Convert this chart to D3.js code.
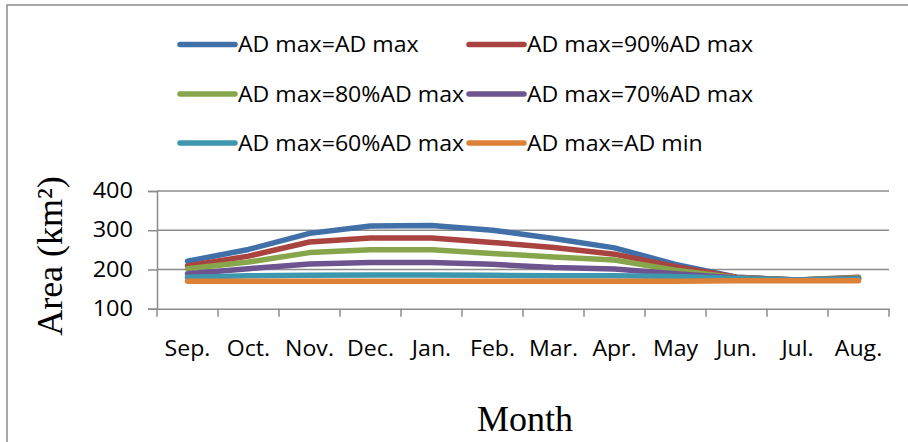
<!DOCTYPE html>
<html>
<head>
<meta charset="utf-8">
<script src="https://cdn.jsdelivr.net/npm/d3@7"></script>
<style>
  html, body { margin: 0; padding: 0; background: #fff; }
  svg { display: block; }
</style>
</head>
<body>
<svg id="chart" width="908" height="442"></svg>
<script>
// Monthly area (km²) for each AD max scenario
const months = ["Sep.", "Oct.", "Nov.", "Dec.", "Jan.", "Feb.", "Mar.", "Apr.", "May", "Jun.", "Jul.", "Aug."];
const adMax    = [221, 251, 292, 311, 312, 300, 279, 255, 213, 180, 173, 177];
const adMax90  = [209, 234, 270, 280, 280, 269, 256, 239, 207, 180, 173, 180];
const adMax80  = [202, 219, 243, 250, 250, 241, 232, 224, 198, 179, 173, 179];
const adMax70  = [189, 202, 214, 218, 218, 213, 205, 201, 189, 178, 173, 177];
const adMax60  = [180, 184, 185, 186, 186, 185, 184, 184, 182, 177, 173, 176];
const adMin    = [170, 170, 170, 170, 170, 170, 170, 170, 170, 171, 171, 171];
const seriesNames = ["AD max=AD max", "AD max=90%AD max", "AD max=80%AD max",
                     "AD max=70%AD max", "AD max=60%AD max", "AD max=AD min"];
const seriesColors = ["#4170A9", "#A9433F", "#87A54A", "#6E548F", "#3D97AF", "#DC8137"];
const yTicks = [100, 200, 300, 400];

const series = [adMax, adMax90, adMax80, adMax70, adMax60, adMin].map((v, i) => ({
  name: seriesNames[i], color: seriesColors[i], values: v
}));

const svg = d3.select("#chart");
const gridColor = "#8c8c8c";
const sansFont = "'Open Sans', 'Noto Sans', sans-serif";
const serifFont = "'Liberation Serif', 'DejaVu Serif', serif";

// widen sans labels slightly so they take the space of the original typeface
function widen(sel, factor) {
  sel.each(function () {
    const w = this.getComputedTextLength();
    d3.select(this).attr("textLength", w * factor).attr("lengthAdjust", "spacingAndGlyphs");
  });
}

// chart frame
svg.append("rect")
  .attr("x", 7).attr("y", 5).attr("width", 1000).attr("height", 1000)
  .attr("fill", "none").attr("stroke", gridColor).attr("stroke-width", 1.5);

const plot = { left: 157, right: 889, top: 191, bottom: 308.7 };

const x = d3.scaleBand().domain(months).range([plot.left, plot.right]).padding(0);
const y = d3.scaleLinear().domain([100, 400]).range([plot.bottom, plot.top]);

// horizontal gridlines
svg.append("g")
  .selectAll("line")
  .data(yTicks.filter(t => t > 100))
  .join("line")
  .attr("x1", plot.left).attr("x2", plot.right)
  .attr("y1", d => y(d)).attr("y2", d => y(d))
  .attr("stroke", gridColor).attr("stroke-width", 1.5);

// y axis
const yAxis = svg.append("g")
  .attr("transform", `translate(${plot.left},0)`)
  .call(d3.axisLeft(y).tickValues(yTicks).tickSize(9).tickPadding(15));
yAxis.select(".domain").attr("stroke", gridColor).attr("stroke-width", 1.5);
yAxis.selectAll(".tick line").attr("stroke", gridColor).attr("stroke-width", 1.5);
yAxis.selectAll(".tick text")
  .attr("font-family", sansFont).attr("font-size", 21).attr("fill", "#000")
  .call(widen, 1.12);

// x axis: tick marks at category boundaries, labels centred in each band
const xAxis = svg.append("g")
  .attr("transform", `translate(0,${plot.bottom})`)
  .call(d3.axisBottom(x).tickSize(0).tickPadding(32));
xAxis.select(".domain").attr("stroke", gridColor).attr("stroke-width", 1.5);
xAxis.selectAll(".tick text")
  .attr("font-family", sansFont).attr("font-size", 21).attr("fill", "#000")
  .call(widen, 1.1);
const boundaries = months.map(m => x(m)).concat([x(months[months.length - 1]) + x.bandwidth()]);
xAxis.append("g").selectAll("line")
  .data(boundaries)
  .join("line")
  .attr("x1", d => d).attr("x2", d => d)
  .attr("y1", 0).attr("y2", 8)
  .attr("stroke", gridColor).attr("stroke-width", 1.5);

// series lines
const line = d3.line()
  .x((d, i) => x(months[i]) + x.bandwidth() / 2)
  .y(d => y(d));

svg.append("g")
  .selectAll("path")
  .data(series)
  .join("path")
  .attr("d", d => line(d.values))
  .attr("fill", "none")
  .attr("stroke", d => d.color)
  .attr("stroke-width", 5.5)
  .attr("stroke-linecap", "round")
  .attr("stroke-linejoin", "round");

// legend: two columns, three rows
const legendCols = [180, 469];
const legendRows = [44.5, 94, 143];
const legend = svg.append("g")
  .selectAll("g")
  .data(series)
  .join("g")
  .attr("transform", (d, i) => `translate(${legendCols[i % 2]},${legendRows[Math.floor(i / 2)]})`);
legend.append("line")
  .attr("x1", 0).attr("x2", 55).attr("y1", 0).attr("y2", 0)
  .attr("stroke", d => d.color).attr("stroke-width", 5.5)
  .attr("stroke-linecap", "round");
legend.append("text")
  .attr("x", 58).attr("y", 7.5)
  .attr("font-family", sansFont).attr("font-size", 21).attr("fill", "#000")
  .text(d => d.name)
  .call(widen, 1.1);

// axis titles
svg.append("text")
  .attr("transform", `translate(62,256) rotate(-90)`)
  .attr("text-anchor", "middle")
  .attr("font-family", serifFont).attr("font-size", 36).attr("fill", "#000")
  .text("Area (km²)");

svg.append("text")
  .attr("x", (plot.left + plot.right) / 2 + 2).attr("y", 431)
  .attr("text-anchor", "middle")
  .attr("font-family", serifFont).attr("font-size", 36).attr("fill", "#000")
  .text("Month");
</script>
</body>
</html>
